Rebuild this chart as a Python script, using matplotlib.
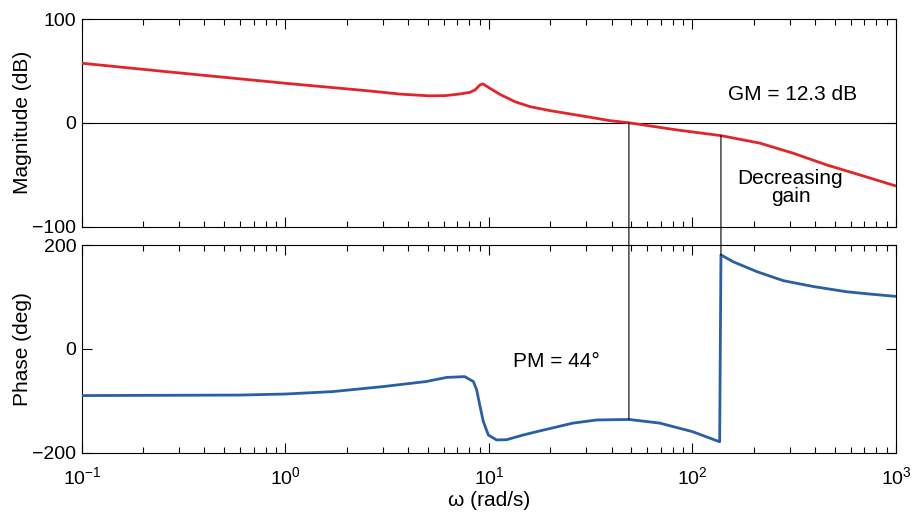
import math
import matplotlib
matplotlib.use("Agg")
import matplotlib.pyplot as plt
from matplotlib.patches import ConnectionPatch
from matplotlib.ticker import FixedLocator, LogLocator, NullFormatter, FuncFormatter

plt.rcParams['font.family'] = ['Liberation Sans', 'DejaVu Sans']
plt.rcParams['mathtext.fontset'] = 'custom'
plt.rcParams['mathtext.rm'] = 'Liberation Sans'
plt.rcParams['mathtext.it'] = 'Liberation Sans'
plt.rcParams['axes.unicode_minus'] = True

# ---- data ----
mag_w = [0.1, 0.26, 1.0, 2.5, 3.65, 5.1, 6.08, 7.2, 8.07, 8.54, 9.03, 9.34, 10.1, 11.3,
         13.4, 15.9, 19.9, 25.0, 31.4, 39.3, 48.2, 83.6, 138, 215, 313, 456, 665, 1000]
mag_db = [57.4, 49.3, 38.1, 31.0, 27.7, 26.0, 26.2, 27.8, 29.4, 31.7, 36.5, 37.5, 33.3, 27.5,
          20.4, 15.6, 11.8, 8.6, 5.4, 2.1, 0.2, -6.8, -12.3, -19.6, -29.3, -40.5, -50.2, -60.8]

ph_w = [0.1, 0.6, 1.0, 1.7, 3.0, 4.9, 6.2, 7.6, 8.38, 8.7, 9.04, 9.38, 9.93, 10.9, 12.2,
        14.7, 17.8, 25.9, 33.8, 48.7, 69, 100, 136, 138, 158, 207, 279, 393, 572, 771, 1000]
ph_deg = [-90, -89, -87, -82.4, -72.8, -63, -55, -53.5, -63, -79, -111, -140, -166, -175.5, -175,
          -166, -158, -143, -137, -136, -143, -159.5, -179, 181, 168, 148.8, 131.4, 120, 110, 105, 101]

pm_w, pm_phase = 48.7, -136.0
gm_w, gm_db = 138.0, -12.3

red = '#e0262b'
blue = '#2a5ea6'

fig = plt.figure(figsize=(9.2, 5.14), dpi=100)
ax1 = fig.add_axes([0.0891, 0.559, 0.8848, 0.404])
ax2 = fig.add_axes([0.0891, 0.1193, 0.8848, 0.404])

ax1.plot(mag_w, mag_db, color=red, lw=2.0, zorder=3)
ax1.axhline(0, color='black', lw=0.8, zorder=2)
ax2.plot(ph_w, ph_deg, color=blue, lw=2.0, zorder=3)

def fmt(v, pos):
    e = int(round(math.log10(v)))
    return r'$10^{%d}$' % e if e >= 0 else r'$10^{-%d}$' % (-e)

for ax in (ax1, ax2):
    ax.set_xscale('log')
    ax.set_xlim(0.1, 1000)
    ax.xaxis.set_major_locator(LogLocator(base=10, numticks=10))
    ax.xaxis.set_minor_locator(LogLocator(base=10, subs=range(2, 10), numticks=20))
    ax.xaxis.set_minor_formatter(NullFormatter())
    ax.tick_params(which='both', direction='in', top=True, right=True, labelsize=14, width=0.8)
    ax.tick_params(which='major', length=7)
    ax.tick_params(which='minor', length=4)
    ax.tick_params(axis='y', pad=4)
    for s in ax.spines.values():
        s.set_linewidth(0.8)

ax1.set_ylim(-100, 100)
ax1.yaxis.set_major_locator(FixedLocator([-100, 0, 100]))
ax1.xaxis.set_major_formatter(NullFormatter())
ax2.set_ylim(-200, 200)
ax2.yaxis.set_major_locator(FixedLocator([-200, 0, 200]))
ax2.xaxis.set_major_formatter(FuncFormatter(fmt))
ax2.tick_params(axis='x', which='major', pad=10)

ax1.set_ylabel('Magnitude (dB)', fontsize=15)
ax2.set_ylabel('Phase (deg)', fontsize=15)
ax1.yaxis.set_label_coords(-0.0614, 0.5)
ax2.yaxis.set_label_coords(-0.0614, 0.5)
ax2.set_xlabel('ω (rad/s)', fontsize=15, labelpad=2)

ax1.text(312, 27.3, 'GM = 12.3 dB', fontsize=15, ha='center', va='center')
ax1.text(303, -62, 'Decreasing\ngain', fontsize=15, ha='center', va='center', linespacing=0.95)
ax2.text(21.5, -24.3, 'PM = 44°', fontsize=15, ha='center', va='center')

for (xa, ya, xb, yb) in [(pm_w, 0, pm_w, pm_phase), (gm_w, gm_db, gm_w, 180)]:
    con = ConnectionPatch(xyA=(xa, ya), coordsA=ax1.transData,
                          xyB=(xb, yb), coordsB=ax2.transData,
                          color='black', lw=0.8, zorder=1)
    fig.add_artist(con)

fig.savefig('out.png', dpi=100)
